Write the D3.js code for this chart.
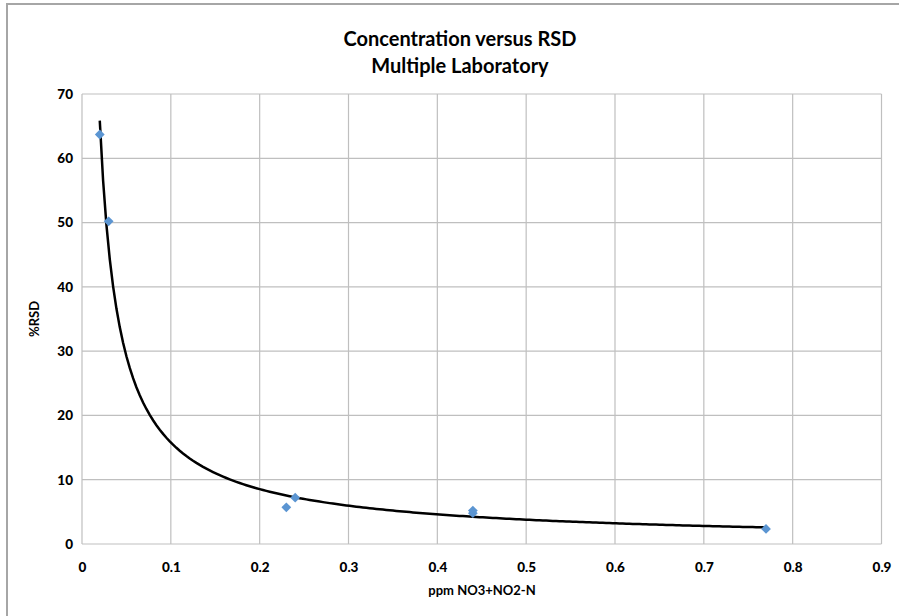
<!DOCTYPE html>
<html><head><meta charset="utf-8">
<script src="https://cdn.jsdelivr.net/npm/d3@7"></script>
<style>body{margin:0;background:#fff}svg{display:block;font-family:Lato,"Open Sans",sans-serif}</style>
</head><body>
<svg id="c" width="899" height="616"></svg>
<script>
const concentration = [0.02, 0.03, 0.23, 0.24, 0.44, 0.44, 0.77];
const rsd = [63.7, 50.2, 5.7, 7.2, 4.8, 5.2, 2.35];
const xTicks = [0, 0.1, 0.2, 0.3, 0.4, 0.5, 0.6, 0.7, 0.8, 0.9];
const yTicks = [0, 10, 20, 30, 40, 50, 60, 70];
const titleLines = ["Concentration versus RSD", "Multiple Laboratory"];
const xTitle = "ppm NO3+NO2-N";
const yTitle = "%RSD";

const svg = d3.select("#c");
const L = 82, R = 881.5, T = 94, B = 544;
const x = d3.scaleLinear().domain([0, 0.9]).range([L, R]);
const y = d3.scaleLinear().domain([0, 70]).range([B, T]);

// chart frame
svg.append("rect").attr("x", 7).attr("y", 4).attr("width", 920).attr("height", 640)
  .attr("fill", "#fff").attr("stroke", "#a6a6a6").attr("stroke-width", 2);

// gridlines
svg.append("g").selectAll("line").data(xTicks).join("line")
  .attr("x1", d => x(d)).attr("x2", d => x(d)).attr("y1", T).attr("y2", B)
  .attr("stroke", "#bfbfbf").attr("stroke-width", 1.2);
svg.append("g").selectAll("line").data(yTicks).join("line")
  .attr("y1", d => y(d)).attr("y2", d => y(d)).attr("x1", L).attr("x2", R)
  .attr("stroke", "#bfbfbf").attr("stroke-width", 1.2);

// axes (labels only)
const xAxis = svg.append("g").attr("transform", `translate(0,${B})`)
  .call(d3.axisBottom(x).tickValues(xTicks).tickSize(0).tickPadding(18).tickFormat(d3.format("")));
const yAxis = svg.append("g").attr("transform", `translate(${L},0)`)
  .call(d3.axisLeft(y).tickValues(yTicks).tickSize(0).tickPadding(9).tickFormat(d3.format("")));
[xAxis, yAxis].forEach(a => {
  a.select(".domain").remove();
  a.selectAll("text").attr("font-family", "Lato, sans-serif").attr("font-size", 13.5)
    .attr("font-weight", "900").attr("fill", "#000");
});

// power trendline fitted from the data (least squares in log-log space)
const lx = concentration.map(Math.log), ly = rsd.map(Math.log);
const mx = d3.mean(lx), my = d3.mean(ly);
const b = d3.sum(lx.map((v, i) => (v - mx) * (ly[i] - my))) / d3.sum(lx.map(v => (v - mx) ** 2));
const a = Math.exp(my - b * mx);
const xs = d3.range(0, 201).map(i => 0.02 + (0.77 - 0.02) * i / 200);
svg.append("path").datum(xs)
  .attr("d", d3.line().x(d => x(d)).y(d => y(a * Math.pow(d, b))))
  .attr("fill", "none").attr("stroke", "#000").attr("stroke-width", 2.5);

// markers (diamonds)
svg.append("g").selectAll("path").data(concentration.map((c, i) => [c, rsd[i]])).join("path")
  .attr("transform", d => `translate(${x(d[0])},${y(d[1])}) rotate(45)`)
  .attr("d", d3.symbol(d3.symbolSquare, 48))
  .attr("fill", "#5b95d2");

// titles
svg.append("g").selectAll("text").data(titleLines).join("text")
  .attr("x", 460).attr("y", (d, i) => 46 + i * 27)
  .attr("text-anchor", "middle").attr("font-size", 20).attr("font-weight", "bold")
  .text(d => d);
svg.append("text").attr("x", 482).attr("y", 595).attr("text-anchor", "middle")
  .attr("font-size", 13).attr("font-weight", "bold").text(xTitle);
svg.append("text").attr("transform", "translate(39,319) rotate(-90)").attr("text-anchor", "middle")
  .attr("font-size", 13).attr("font-weight", "bold").text(yTitle);
</script>
</body></html>
